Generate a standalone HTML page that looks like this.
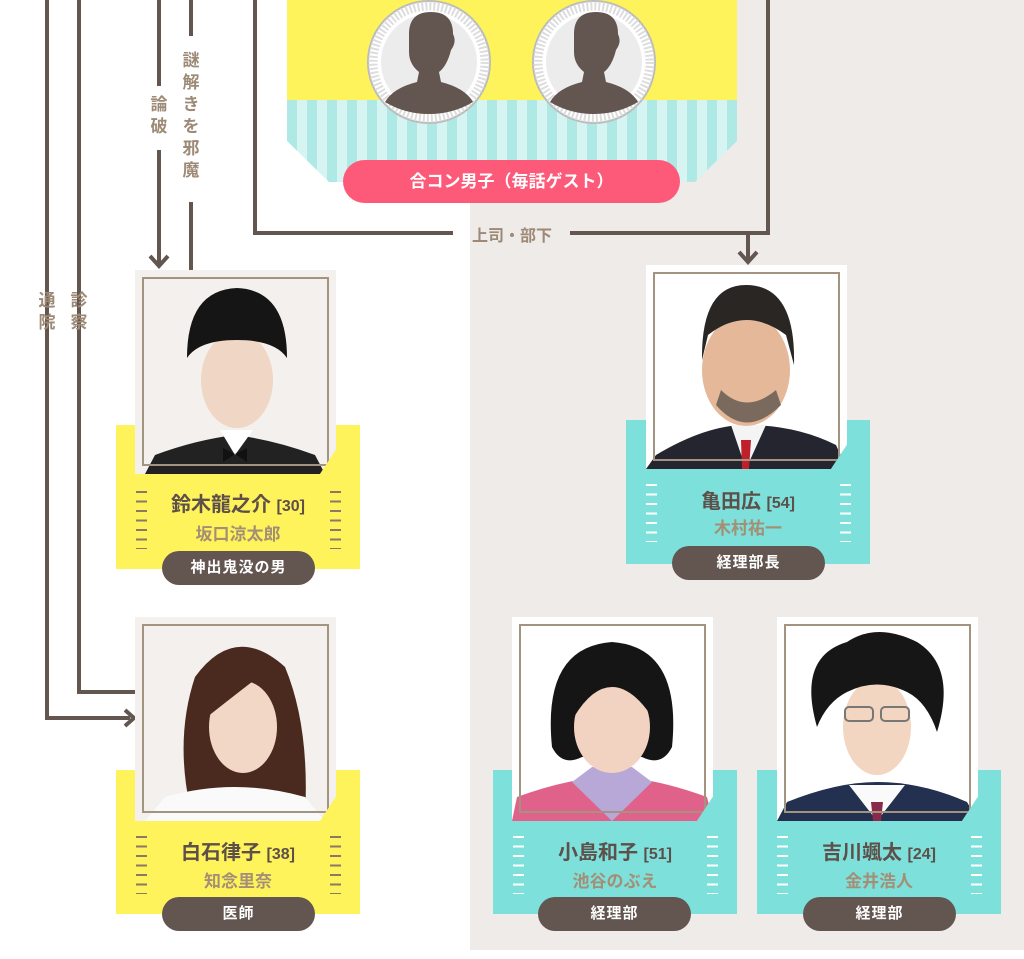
<!DOCTYPE html>
<html><head><meta charset="utf-8"><style>
*{margin:0;padding:0;box-sizing:border-box}
body{width:1024px;height:959px;position:relative;overflow:hidden;background:#fff;font-family:"Liberation Sans","Noto Sans CJK JP",sans-serif}
.abs{position:absolute}
.ln{position:absolute;background:#63554f}
.vt{position:absolute;color:#9c8a76;font-size:17px;font-weight:bold;width:20px;line-height:22px;text-align:center}
.blk{position:absolute;width:244px;height:144px}
.y{background:#fef35a}.c{background:#7de0da}
.ph{position:absolute;width:201px;height:204px;background:#f3f0ed;overflow:hidden;clip-path:polygon(0 0,100% 0,100% 88%,92% 100%,0 100%)}
.ph .fr{position:absolute;left:7px;top:7px;width:187px;height:189px;border:2px solid #a39482;z-index:2}
.nm{position:absolute;width:244px;text-align:center;font-size:20px;font-weight:bold;color:#5d4f49}
.nm small{font-size:16px}
.ac{position:absolute;width:244px;text-align:center;font-size:17px;font-weight:bold;color:#a48f76}
.pl{position:absolute;width:153px;height:34px;border-radius:17px;background:#63554f;color:#fff;font-size:15px;font-weight:bold;text-align:center;line-height:34px;letter-spacing:1px}
.tk{position:absolute;width:11px;height:58px;background:repeating-linear-gradient(to bottom,#8b7868 0 2px,transparent 2px 9.5px)}
.c .tk{background:repeating-linear-gradient(to bottom,#fff 0 2px,transparent 2px 9.5px)}
</style></head><body>
<div class="abs" style="left:470px;top:0;width:554px;height:950px;background:#efebe8"></div>

<!-- top card -->
<div class="abs" style="left:287px;top:0;width:450px;height:100px;background:#fef35a"></div>
<div class="abs" style="left:287px;top:100px;width:450px;height:82px;background:repeating-linear-gradient(to right,#aee9e6 0 10px,#d6f4f2 10px 20px);clip-path:polygon(0 0,100% 0,100% 50%,calc(100% - 42px) 100%,42px 100%,0 50%)"></div>
<svg class="abs" style="left:366px;top:0" width="292" height="126">
<defs><g id="av"><circle r="61" fill="#fff" stroke="#bbb" stroke-width="2"/><circle r="56" fill="none" stroke="#ddd" stroke-width="9" stroke-dasharray="2 2"/><circle r="48" fill="#ececec"/>
<path d="M-20 -28 Q-20 -50 2 -50 Q24 -50 24 -28 Q28 -20 22 -12 Q18 4 10 10 L12 20 Q36 26 44 40 Q24 52 0 52 Q-24 52 -44 40 Q-36 26 -12 20 L-10 10 Q-20 2 -20 -10 Z" fill="#63554f"/></g></defs>
<use href="#av" x="63" y="62"/><use href="#av" x="228" y="62"/></svg>
<div class="abs" style="left:343px;top:160px;width:337px;height:43px;border-radius:22px;background:#fd5a7a;color:#fff;font-size:17px;font-weight:bold;text-align:center;line-height:43px">合コン男子（毎話ゲスト）</div>

<!-- lines -->
<div class="ln" style="left:45px;top:0;width:4px;height:720px"></div>
<div class="ln" style="left:45px;top:716px;width:85px;height:4px"></div>
<svg class="abs" style="left:122px;top:708px" width="16" height="20"><path d="M3 2 L12 10 L3 18" stroke="#63554f" stroke-width="4" fill="none"/></svg>
<div class="ln" style="left:77px;top:0;width:4px;height:694px"></div>
<div class="ln" style="left:77px;top:690px;width:60px;height:4px"></div>
<div class="ln" style="left:157px;top:0;width:4px;height:86px"></div>
<div class="ln" style="left:157px;top:150px;width:4px;height:114px"></div>
<svg class="abs" style="left:148px;top:252px" width="22" height="18"><path d="M2 4 L11 14 L20 4" stroke="#63554f" stroke-width="4" fill="none"/></svg>
<div class="ln" style="left:189px;top:0;width:4px;height:36px"></div>
<div class="ln" style="left:189px;top:202px;width:4px;height:68px"></div>
<div class="ln" style="left:253px;top:0;width:4px;height:235px"></div>
<div class="ln" style="left:253px;top:231px;width:200px;height:4px"></div>
<div class="ln" style="left:570px;top:231px;width:200px;height:4px"></div>
<div class="ln" style="left:766px;top:0;width:4px;height:235px"></div>
<div class="ln" style="left:746px;top:231px;width:4px;height:30px"></div>
<svg class="abs" style="left:737px;top:248px" width="22" height="18"><path d="M2 4 L11 14 L20 4" stroke="#63554f" stroke-width="4" fill="none"/></svg>
<div class="vt" style="left:149px;top:94px">論<br>破</div>
<div class="vt" style="left:181px;top:50px">謎<br>解<br>き<br>を<br>邪<br>魔</div>
<div class="vt" style="left:37px;top:290px">通<br>院</div>
<div class="vt" style="left:69px;top:290px">診<br>察</div>
<div class="abs" style="left:458px;top:222px;width:108px;text-align:center;color:#9c8a76;font-size:16px;font-weight:bold">上司・部下</div>

<!-- Suzuki -->
<div class="blk y" style="left:116px;top:425px"><div class="tk" style="left:20px;top:66px"></div><div class="tk" style="left:214px;top:66px"></div></div>
<div class="ph" style="left:135px;top:270px"><div class="fr"></div><svg width="201" height="204"><path d="M10 204 L20 185 Q60 170 100 165 Q140 170 180 185 L190 204Z" fill="#222"/><path d="M85 160 L100 185 L118 160Z" fill="#fff"/><path d="M88 178 L100 184 L88 192Z M112 178 L100 184 L112 192Z" fill="#111"/><ellipse cx="102" cy="110" rx="36" ry="48" fill="#f0d6c4"/><path d="M52 88 Q52 20 102 18 Q152 20 152 88 Q140 70 102 70 Q64 70 52 88Z" fill="#151515"/></svg></div>
<div class="nm" style="left:116px;top:488px">鈴木龍之介 <small>[30]</small></div>
<div class="ac" style="left:116px;top:520px">坂口涼太郎</div>
<div class="pl" style="left:162px;top:551px">神出鬼没の男</div>

<!-- Shiraishi -->
<div class="blk y" style="left:116px;top:770px"><div class="tk" style="left:20px;top:66px"></div><div class="tk" style="left:214px;top:66px"></div></div>
<div class="ph" style="left:135px;top:617px"><div class="fr"></div><svg width="201" height="204"><path d="M55 190 Q40 120 60 60 Q100 5 150 50 Q175 110 170 200Z" fill="#4a2a1e"/><path d="M10 204 L30 180 Q100 160 170 180 L190 204Z" fill="#fafafa"/><ellipse cx="108" cy="110" rx="34" ry="46" fill="#f3d7c6"/><path d="M70 95 Q80 40 130 55 Q110 70 72 100Z" fill="#4a2a1e"/></svg></div>
<div class="nm" style="left:116px;top:836px">白石律子 <small>[38]</small></div>
<div class="ac" style="left:116px;top:867px">知念里奈</div>
<div class="pl" style="left:162px;top:897px">医師</div>

<!-- Kameda -->
<div class="blk c" style="left:626px;top:420px"><div class="tk" style="left:20px;top:64px"></div><div class="tk" style="left:214px;top:64px"></div></div>
<div class="ph" style="left:646px;top:265px;background:#fff"><div class="fr"></div><svg width="201" height="204"><path d="M0 204 L10 190 Q60 160 100 160 Q150 160 190 180 L201 204Z" fill="#252530"/><path d="M85 160 L100 204 L120 160Z" fill="#f4f4f4"/><path d="M95 175 L105 175 L103 204 L96 204Z" fill="#c0202a"/><ellipse cx="100" cy="105" rx="44" ry="56" fill="#e4b898"/><path d="M70 140 Q100 175 135 140 L130 125 Q100 150 75 125Z" fill="#7a6a5e"/><path d="M56 95 Q55 20 100 20 Q150 20 148 100 L140 70 Q100 40 62 70Z" fill="#2a2624"/></svg></div>
<div class="nm" style="left:626px;top:485px">亀田広 <small>[54]</small></div>
<div class="ac" style="left:626px;top:514px">木村祐一</div>
<div class="pl" style="left:672px;top:546px">経理部長</div>

<!-- Kojima -->
<div class="blk c" style="left:493px;top:770px"><div class="tk" style="left:20px;top:66px"></div><div class="tk" style="left:214px;top:66px"></div></div>
<div class="ph" style="left:512px;top:617px;background:#fff"><div class="fr"></div><svg width="201" height="204"><path d="M0 204 L5 180 Q60 160 100 160 Q140 160 195 180 L201 204Z" fill="#e0628a"/><path d="M60 165 L100 204 L140 165 L120 150 L80 150Z" fill="#b8a8d8"/><path d="M40 130 Q30 30 100 25 Q170 30 160 130 Q150 150 130 140 L70 140 Q50 150 40 130Z" fill="#151515"/><ellipse cx="100" cy="110" rx="38" ry="46" fill="#f2d2c0"/><path d="M62 100 Q70 55 100 55 Q130 55 140 100 Q120 70 100 70 Q80 70 62 100Z" fill="#151515"/></svg></div>
<div class="nm" style="left:493px;top:836px">小島和子 <small>[51]</small></div>
<div class="ac" style="left:493px;top:867px">池谷のぶえ</div>
<div class="pl" style="left:538px;top:897px">経理部</div>

<!-- Yoshikawa -->
<div class="blk c" style="left:757px;top:770px"><div class="tk" style="left:20px;top:66px"></div><div class="tk" style="left:214px;top:66px"></div></div>
<div class="ph" style="left:777px;top:617px;background:#fff"><div class="fr"></div><svg width="201" height="204"><path d="M0 204 L10 185 Q60 165 100 165 Q145 165 190 185 L201 204Z" fill="#23304f"/><path d="M72 168 L100 204 L128 168Z" fill="#fafafa"/><path d="M94 185 L106 185 L104 204 L96 204Z" fill="#8a2a4a"/><ellipse cx="100" cy="110" rx="34" ry="48" fill="#f3d6c2"/><path d="M40 110 Q20 40 70 25 Q100 5 140 25 Q180 50 160 115 Q150 85 130 75 Q100 60 70 75 Q50 85 40 110Z" fill="#161616"/><rect x="68" y="90" width="28" height="14" rx="4" fill="none" stroke="#777" stroke-width="2"/><rect x="104" y="90" width="28" height="14" rx="4" fill="none" stroke="#777" stroke-width="2"/></svg></div>
<div class="nm" style="left:757px;top:836px">吉川颯太 <small>[24]</small></div>
<div class="ac" style="left:757px;top:867px">金井浩人</div>
<div class="pl" style="left:803px;top:897px">経理部</div>
</body></html>
